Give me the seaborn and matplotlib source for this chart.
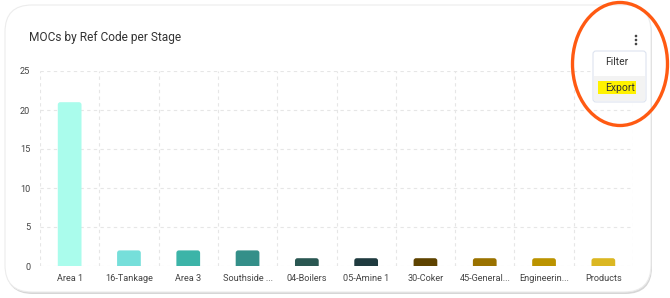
import matplotlib
matplotlib.use("Agg")
import matplotlib.pyplot as plt
import seaborn as sns
import pandas as pd
import numpy as np
from matplotlib.patches import FancyBboxPatch, Ellipse, Rectangle

categories = ["Area 1", "16-Tankage", "Area 3", "Southside ...", "04-Boilers",
              "05-Amine 1", "30-Coker", "45-General...", "Engineerin...", "Products"]
values = [21, 2, 2, 2, 1, 1, 1, 1, 1, 1]
colors = ["#aafcec", "#76dfda", "#3cb4a8", "#348f89", "#2a5752",
          "#1f3b3f", "#5e4300", "#9a7200", "#bb9300", "#dbb722"]
y_ticks = [0, 5, 10, 15, 20, 25]
title = "MOCs by Ref Code per Stage"
menu_items = ["Filter", "Export"]

sns.set_style("white")
plt.rcParams['font.family'] = ['Roboto', 'DejaVu Sans']

W, H = 670, 298
fig = plt.figure(figsize=(W / 100, H / 100), dpi=100)
fig.patch.set_facecolor("white")

# card background
card_shadow = FancyBboxPatch((6 / W, 4 / H), 646 / W, 287 / H,
                             boxstyle="round,pad=0,rounding_size=0.04",
                             transform=fig.transFigure, facecolor="#d6d6d6",
                             edgecolor="none", zorder=-2, mutation_aspect=W / H)
fig.patches.append(card_shadow)
card = FancyBboxPatch((5 / W, 6 / H), 646 / W, 287 / H,
                      boxstyle="round,pad=0,rounding_size=0.04",
                      transform=fig.transFigure, facecolor="white",
                      edgecolor="#ececec", linewidth=0.8, zorder=-1,
                      mutation_aspect=W / H)
fig.patches.append(card)

ax_left, ax_right, ax_top, ax_bot = 40, 633, 71, 266
ax = fig.add_axes([ax_left / W, 1 - ax_bot / H, (ax_right - ax_left) / W, (ax_bot - ax_top) / H])
ax.set_zorder(1)
ax.set_facecolor("none")
df = pd.DataFrame({"cat": categories, "val": values})
sns.barplot(data=df, x="cat", y="val", hue="cat", palette=colors, legend=False,
            width=0.4, ax=ax, saturation=1, zorder=3)

ax.set_xlim(-0.5, len(categories) - 0.5)
ax.set_ylim(0, 25)

# round the top corners of the bars
x_per_px = len(categories) / (ax_right - ax_left)
y_per_px = 25 / (ax_bot - ax_top)
aspect = y_per_px / x_per_px
r_x = 2.5 * x_per_px
r_y = r_x * aspect
for p in list(ax.patches):
    x0, w, h, fc = p.get_x(), p.get_width(), p.get_height(), p.get_facecolor()
    p.remove()
    fb = FancyBboxPatch((x0, -r_y), w, h + r_y,
                        boxstyle=f"round,pad=0,rounding_size={r_x}",
                        mutation_aspect=aspect, facecolor=fc, edgecolor="none",
                        zorder=3, clip_on=True)
    ax.add_patch(fb)

ax.set_yticks(y_ticks)
ax.set_xticks(np.arange(-0.5, len(categories), 1.0), minor=True)
ax.grid(False)
ax.grid(True, axis="y", which="major", color="#e6e6e6", linestyle=(0, (3, 3)), linewidth=0.8, zorder=0)
ax.grid(True, axis="x", which="minor", color="#e6e6e6", linestyle=(0, (3, 3)), linewidth=0.8, zorder=0)
for s in ax.spines.values():
    s.set_visible(False)
ax.tick_params(axis="both", which="both", length=0, labelsize=6.6, colors="#444444", pad=6)
ax.tick_params(axis="y", pad=7)
ax.set_xlabel("")
ax.set_ylabel("")

fig.text(29 / W, 1 - 37 / H, title, fontsize=8.6, color="#333333", va="center", ha="left")

# overlay axes for menu
ov = fig.add_axes([0, 0, 1, 1])
ov.set_zorder(5)
ov.set_xlim(0, W)
ov.set_ylim(H, 0)
ov.axis("off")
ov.patch.set_visible(False)

for dy in (-4, 0, 4):
    ov.add_patch(Ellipse((636, 40 + dy), 2.6, 2.6, facecolor="#444444", edgecolor="none"))
ov.add_patch(FancyBboxPatch((593, 51), 53, 51, boxstyle="round,pad=0,rounding_size=3",
                            facecolor="white", edgecolor="#dde3f0", linewidth=0.8, zorder=5))
ov.add_patch(Rectangle((594, 76), 51, 25, facecolor="#f3f3f3", edgecolor="none", zorder=5))
ov.add_patch(Rectangle((598, 81), 38, 13, facecolor="#fff200", edgecolor="none", zorder=6))
ov.text(605, 62, menu_items[0], fontsize=7.5, color="#333333", va="center", ha="left", zorder=7)
ov.text(605, 88, menu_items[1], fontsize=7.5, color="#333333", va="center", ha="left", zorder=7)
ov.add_patch(Ellipse((620, 64), 95, 123, facecolor="none", edgecolor="#ff5a12",
                     linewidth=2.4, zorder=8))

fig.savefig("out.png", dpi=100, facecolor="white")
